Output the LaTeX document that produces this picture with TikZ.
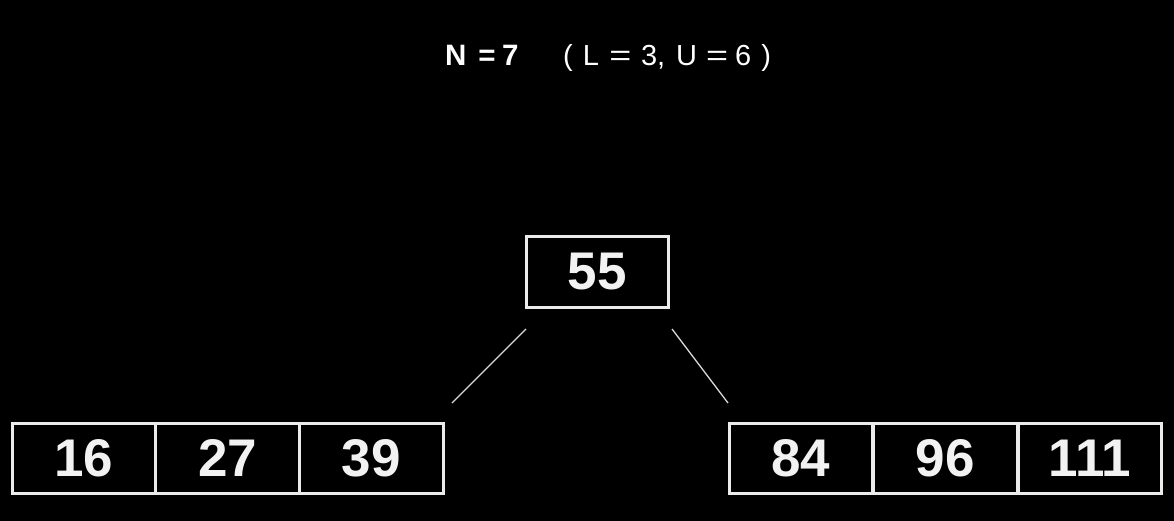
\documentclass[tikz,border=0pt]{standalone}
\usepackage{fontspec}
\usepackage{graphicx}
\setmainfont{Liberation Sans}
\newcommand{\wideeq}{\scalebox{1.3}[1]{=}}
\begin{document}
\begin{tikzpicture}[x=1pt,y=-1pt,
  cell/.style={draw=white!92!black, line width=3pt, minimum width=143.7pt, minimum height=70pt,
    inner sep=0pt, text=white!95!black, font=\fontsize{53}{60}\selectfont\bfseries, anchor=north west},
  edge/.style={draw=white!85!black, line width=1.3pt},
  titletext/.style={anchor=base west, inner sep=0pt, text=white}]
\fill[black] (0,0) rectangle (1174,521);
\useasboundingbox (0,0) rectangle (1174,521);
\node[titletext, font=\fontsize{29.5}{34}\selectfont\bfseries] (title) at (445,66) {N\hspace{12pt}=\hspace{6.5pt}7};
\node[titletext, font=\fontsize{29}{34}\selectfont] (range) at (563,66) {(\hspace{10pt}L\hspace{10.5pt}\wideeq\hspace{9.5pt}3,\hspace{11pt}U\hspace{9pt}\wideeq\hspace{7pt}6\hspace{10pt})};
\node[cell, minimum width=142pt, minimum height=70pt] (n55) at (524.5,235.5) {55};
\node[cell] (a16) at (10.5,421.5) {16};
\node[cell] (a27) at (154.2,421.5) {27};
\node[cell] (a39) at (297.9,421.5) {39};
\node[cell] (b84) at (727.5,421.5) {84};
\node[cell] (b96) at (872,421.5) {96};
\node[cell] (b111) at (1016.5,421.5) {111};
\coordinate (l1) at (526,329);
\coordinate (l2) at (452,403);
\coordinate (r1) at (672,329);
\coordinate (r2) at (728,403);
\draw[edge] (l1) -- (l2);
\draw[edge] (r1) -- (r2);
\end{tikzpicture}
\end{document}
